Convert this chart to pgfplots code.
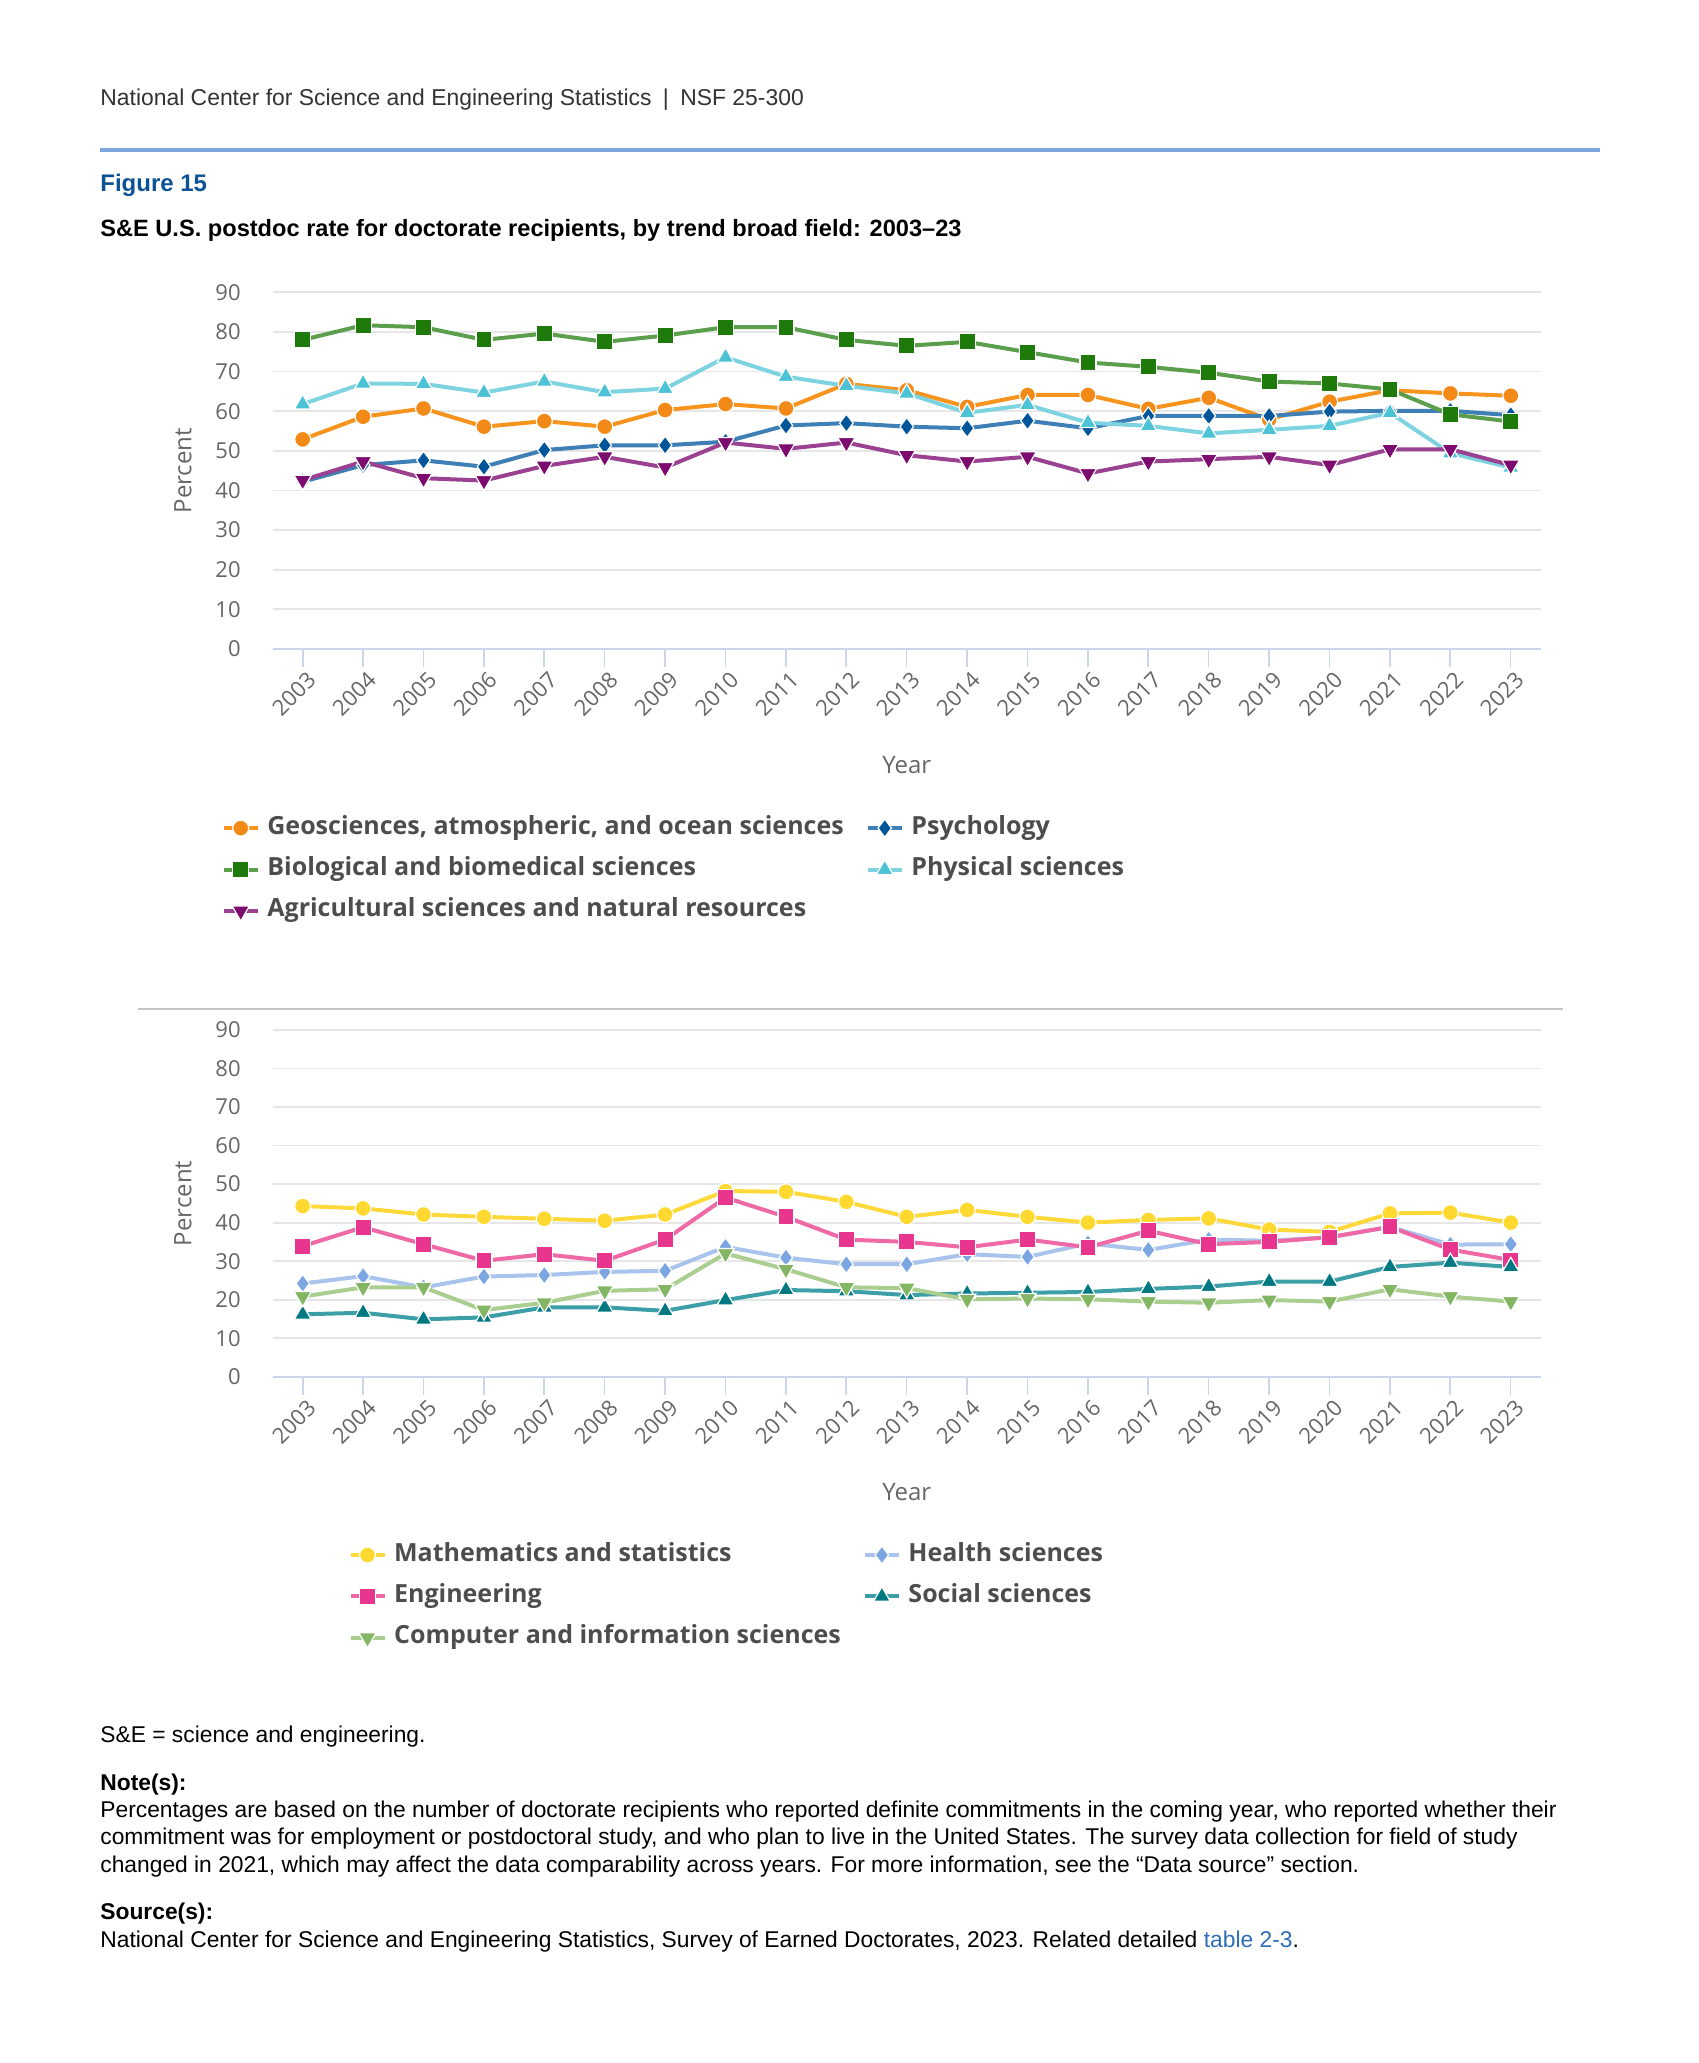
\documentclass[border=0pt]{standalone}
\usepackage{fontspec}
\setmainfont{Liberation Sans}
\newfontfamily\opensans{Open Sans}
\usepackage{pgfplots}
\pgfplotsset{compat=1.18}

\definecolor{hdr}{HTML}{333333}
\definecolor{rule}{HTML}{7BA7DE}
\definecolor{figblue}{HTML}{0B5394}
\definecolor{linkblue}{HTML}{2F6DB5}
\definecolor{tickgray}{HTML}{666666}
\definecolor{leggray}{HTML}{4D4D4D}
\definecolor{gridgray}{HTML}{E6E6E6}
\definecolor{axisblue}{HTML}{CCD6EB}
\definecolor{sepgray}{HTML}{C4C4C4}
% series: marker colour / line colour
\definecolor{geoM}{HTML}{F38A17}\definecolor{geoL}{HTML}{F7941E}
\definecolor{bioM}{HTML}{1F7A0C}\definecolor{bioL}{HTML}{5B9E4B}
\definecolor{psyM}{HTML}{00559B}\definecolor{psyL}{HTML}{3E80B5}
\definecolor{phyM}{HTML}{4BC2D6}\definecolor{phyL}{HTML}{7DD3E0}
\definecolor{agrM}{HTML}{7D0A6F}\definecolor{agrL}{HTML}{9A4191}
\definecolor{matM}{HTML}{FFD92F}\definecolor{matL}{HTML}{FFD93A}
\definecolor{engM}{HTML}{E8368F}\definecolor{engL}{HTML}{EE69A6}
\definecolor{heaM}{HTML}{7BA6E2}\definecolor{heaL}{HTML}{A8C4EC}
\definecolor{socM}{HTML}{007882}\definecolor{socL}{HTML}{3C9FA8}
\definecolor{comM}{HTML}{83B662}\definecolor{comL}{HTML}{A9CE90}

\pgfplotsset{
  nsf/.style={
    scale only axis, width=634.25bp,
    xmin=2002.5, xmax=2023.5, ymin=0, ymax=90,
    xtick={2003,...,2023}, ytick={0,10,...,90},
    axis lines*=left,
    x axis line style={draw=axisblue, line width=1.1bp},
    y axis line style={draw=none},
    tick align=outside, major tick length=9bp,
    x tick style={draw=axisblue, line width=0.8bp},
    y tick style={draw=none},
    ymajorgrids, grid style={draw=gridgray, line width=0.9bp},
    /pgf/number format/assume math mode=true,
    /pgf/number format/1000 sep={},
    ticklabel style={font=\opensans\fontsize{11bp}{13bp}\selectfont, text=tickgray},
    yticklabel style={anchor=east, inner sep=0pt, xshift=-6.75bp},
    xticklabel style={rotate=45, anchor=east, inner sep=0pt, yshift=-6.5bp},
    label style={font=\opensans\fontsize{12bp}{14bp}\selectfont, text=tickgray},
    xlabel={Year}, ylabel={Percent},
    ylabel style={at={(axis description cs:-0.0706,0.5)}, anchor=center},
    legend columns=2,
    legend cell align=left,
    legend style={draw=none, fill=none, inner sep=0pt,
      font=\opensans\bfseries\fontsize{12.5bp}{14bp}\selectfont, text=leggray,
      nodes={inner sep=0pt, text height=9bp, text depth=3bp},
      row sep=8.7bp, column sep=3.8bp,
      /tikz/every even column/.append style={column sep=11bp}},
    legend image code/.code={
      \draw[##1, mark=none] (0bp,0bp) -- (17bp,0bp);
      \draw[##1] plot coordinates {(8.5bp,0bp)};
    },
  },
  ser/.style n args={3}{color=#1, line width=2bp, mark=#3,
    mark options={solid, fill=#2, draw=white, line width=0.6bp}},
  serd/.style n args={2}{color=#1, line width=2bp, mark=triangle*,
    mark options={solid, fill=#2, draw=white, line width=0.6bp, rotate=180}},
}

\begin{document}
\begin{tikzpicture}
\useasboundingbox (0,0) rectangle (849.5bp,-1031.5bp);

\node[anchor=west, inner sep=0pt, text=hdr, font=\fontsize{11.45bp}{13bp}\selectfont]
  at (50bp,-50bp) {National Center for Science and Engineering Statistics\hspace{0.5em}|\hspace{0.5em}NSF 25-300};
\draw[rule, line width=2bp] (50bp,-75bp) -- (800bp,-75bp);
\node[anchor=west, inner sep=0pt, text=figblue, font=\bfseries\fontsize{12bp}{14bp}\selectfont]
  at (50bp,-92.85bp) {Figure 15};
\node[anchor=west, inner sep=0pt, font=\bfseries\fontsize{11.8bp}{13bp}\selectfont]
  at (50bp,-115bp) {S\&E U.S. postdoc rate for doctorate recipients, by trend broad field: 2003--23};

% ---- top chart
\begin{axis}[nsf, at={(136.25bp,-324.5bp)}, anchor=south west, height=178.35bp,
  xlabel style={at={(axis description cs:0.5,-0.325)}, anchor=center},
  legend style={at={(axis description cs:-0.0403,-0.4675)}, anchor=north west}]
\addplot[ser={geoL}{geoM}{*}, mark size=4bp] coordinates {
(2003,52.9)(2004,58.6)(2005,60.7)(2006,56.1)(2007,57.5)(2008,56.1)(2009,60.3)
(2010,61.8)(2011,60.7)(2012,66.9)(2013,65.3)(2014,61.1)(2015,64.1)(2016,64.1)
(2017,60.6)(2018,63.4)(2019,57.9)(2020,62.4)(2021,65.3)(2022,64.5)(2023,63.9)};
\addlegendentry{Geosciences, atmospheric, and ocean sciences}
\addplot[ser={psyL}{psyM}{diamond*}, mark size=4.5bp] coordinates {
(2003,42.2)(2004,46.4)(2005,47.6)(2006,46.0)(2007,50.2)(2008,51.4)(2009,51.4)
(2010,52.3)(2011,56.4)(2012,57.0)(2013,56.1)(2014,55.7)(2015,57.6)(2016,55.7)
(2017,58.8)(2018,58.8)(2019,58.8)(2020,59.9)(2021,60.1)(2022,60.1)(2023,59.0)};
\addlegendentry{Psychology}
\addplot[ser={bioL}{bioM}{square*}, mark size=4bp] coordinates {
(2003,78.0)(2004,81.7)(2005,81.2)(2006,78.0)(2007,79.6)(2008,77.5)(2009,79.1)
(2010,81.2)(2011,81.2)(2012,78.0)(2013,76.5)(2014,77.5)(2015,74.9)(2016,72.3)
(2017,71.2)(2018,69.7)(2019,67.5)(2020,67.0)(2021,65.5)(2022,59.2)(2023,57.4)};
\addlegendentry{Biological and biomedical sciences}
\addplot[ser={phyL}{phyM}{triangle*}, mark size=4.8bp] coordinates {
(2003,61.8)(2004,67.0)(2005,66.9)(2006,64.7)(2007,67.5)(2008,64.8)(2009,65.7)
(2010,73.6)(2011,68.7)(2012,66.4)(2013,64.5)(2014,59.6)(2015,61.6)(2016,57.1)
(2017,56.3)(2018,54.4)(2019,55.3)(2020,56.3)(2021,59.6)(2022,49.4)(2023,45.8)};
\addlegendentry{Physical sciences}
\addplot[serd={agrL}{agrM}, mark size=5bp] coordinates {
(2003,42.6)(2004,47.3)(2005,43.1)(2006,42.5)(2007,46.2)(2008,48.5)(2009,45.8)
(2010,52.1)(2011,50.5)(2012,52.1)(2013,48.9)(2014,47.3)(2015,48.5)(2016,44.3)
(2017,47.3)(2018,47.9)(2019,48.5)(2020,46.4)(2021,50.4)(2022,50.4)(2023,46.4)};
\addlegendentry{Agricultural sciences and natural resources}
\end{axis}

\draw[sepgray, line width=1bp] (69bp,-504.5bp) -- (781.5bp,-504.5bp);

% ---- bottom chart
\begin{axis}[nsf, at={(136.25bp,-688.35bp)}, anchor=south west, height=173.35bp,
  xlabel style={at={(axis description cs:0.5,-0.3326)}, anchor=center},
  legend style={at={(axis description cs:0.0596,-0.4785)}, anchor=north west}]
\addplot[ser={matL}{matM}{*}, mark size=4bp] coordinates {
(2003,44.3)(2004,43.7)(2005,42.1)(2006,41.5)(2007,41.0)(2008,40.5)(2009,42.1)
(2010,48.2)(2011,48.0)(2012,45.4)(2013,41.5)(2014,43.3)(2015,41.5)(2016,40.0)
(2017,40.7)(2018,41.1)(2019,38.2)(2020,37.6)(2021,42.4)(2022,42.6)(2023,40.0)};
\addlegendentry{Mathematics and statistics}
\addplot[ser={heaL}{heaM}{diamond*}, mark size=4.5bp] coordinates {
(2003,24.2)(2004,26.1)(2005,23.2)(2006,26.0)(2007,26.4)(2008,27.2)(2009,27.5)
(2010,33.7)(2011,30.9)(2012,29.2)(2013,29.2)(2014,31.8)(2015,31.1)(2016,34.6)
(2017,32.9)(2018,35.6)(2019,35.3)(2020,36.2)(2021,38.9)(2022,34.3)(2023,34.4)};
\addlegendentry{Health sciences}
\addplot[ser={engL}{engM}{square*}, mark size=4bp] coordinates {
(2003,33.9)(2004,38.8)(2005,34.4)(2006,30.1)(2007,31.8)(2008,30.1)(2009,35.6)
(2010,46.5)(2011,41.5)(2012,35.6)(2013,35.0)(2014,33.6)(2015,35.6)(2016,33.6)
(2017,37.9)(2018,34.4)(2019,35.0)(2020,36.2)(2021,38.9)(2022,33.0)(2023,30.3)};
\addlegendentry{Engineering}
\addplot[ser={socL}{socM}{triangle*}, mark size=4.8bp] coordinates {
(2003,16.2)(2004,16.6)(2005,14.9)(2006,15.4)(2007,18.0)(2008,18.0)(2009,17.1)
(2010,19.9)(2011,22.5)(2012,22.2)(2013,21.2)(2014,21.6)(2015,21.8)(2016,22.0)
(2017,22.8)(2018,23.4)(2019,24.7)(2020,24.7)(2021,28.5)(2022,29.6)(2023,28.5)};
\addlegendentry{Social sciences}
\addplot[serd={comL}{comM}, mark size=5bp] coordinates {
(2003,20.8)(2004,23.2)(2005,23.2)(2006,17.3)(2007,19.2)(2008,22.3)(2009,22.7)
(2010,32.0)(2011,27.9)(2012,23.2)(2013,23.0)(2014,20.1)(2015,20.3)(2016,20.1)
(2017,19.5)(2018,19.2)(2019,19.9)(2020,19.5)(2021,22.7)(2022,20.8)(2023,19.5)};
\addlegendentry{Computer and information sciences}
\end{axis}

% ---- notes
\begin{scope}[every node/.style={anchor=west, inner sep=0pt, font=\fontsize{11.4bp}{13bp}\selectfont}]
\node at (50bp,-868.5bp) {S\&E = science and engineering.};
\node at (50bp,-892.5bp) {\textbf{Note(s):}};
\node at (50bp,-906bp) {Percentages are based on the number of doctorate recipients who reported definite commitments in the coming year, who reported whether their};
\node at (50bp,-919.5bp) {commitment was for employment or postdoctoral study, and who plan to live in the United States. The survey data collection for field of study};
\node at (50bp,-933.5bp) {changed in 2021, which may affect the data comparability across years. For more information, see the “Data source” section.};
\node at (50bp,-957bp) {\textbf{Source(s):}};
\node at (50bp,-971bp) {National Center for Science and Engineering Statistics, Survey of Earned Doctorates, 2023. Related detailed \textcolor{linkblue}{table 2-3}.};
\end{scope}
\end{tikzpicture}
\end{document}
